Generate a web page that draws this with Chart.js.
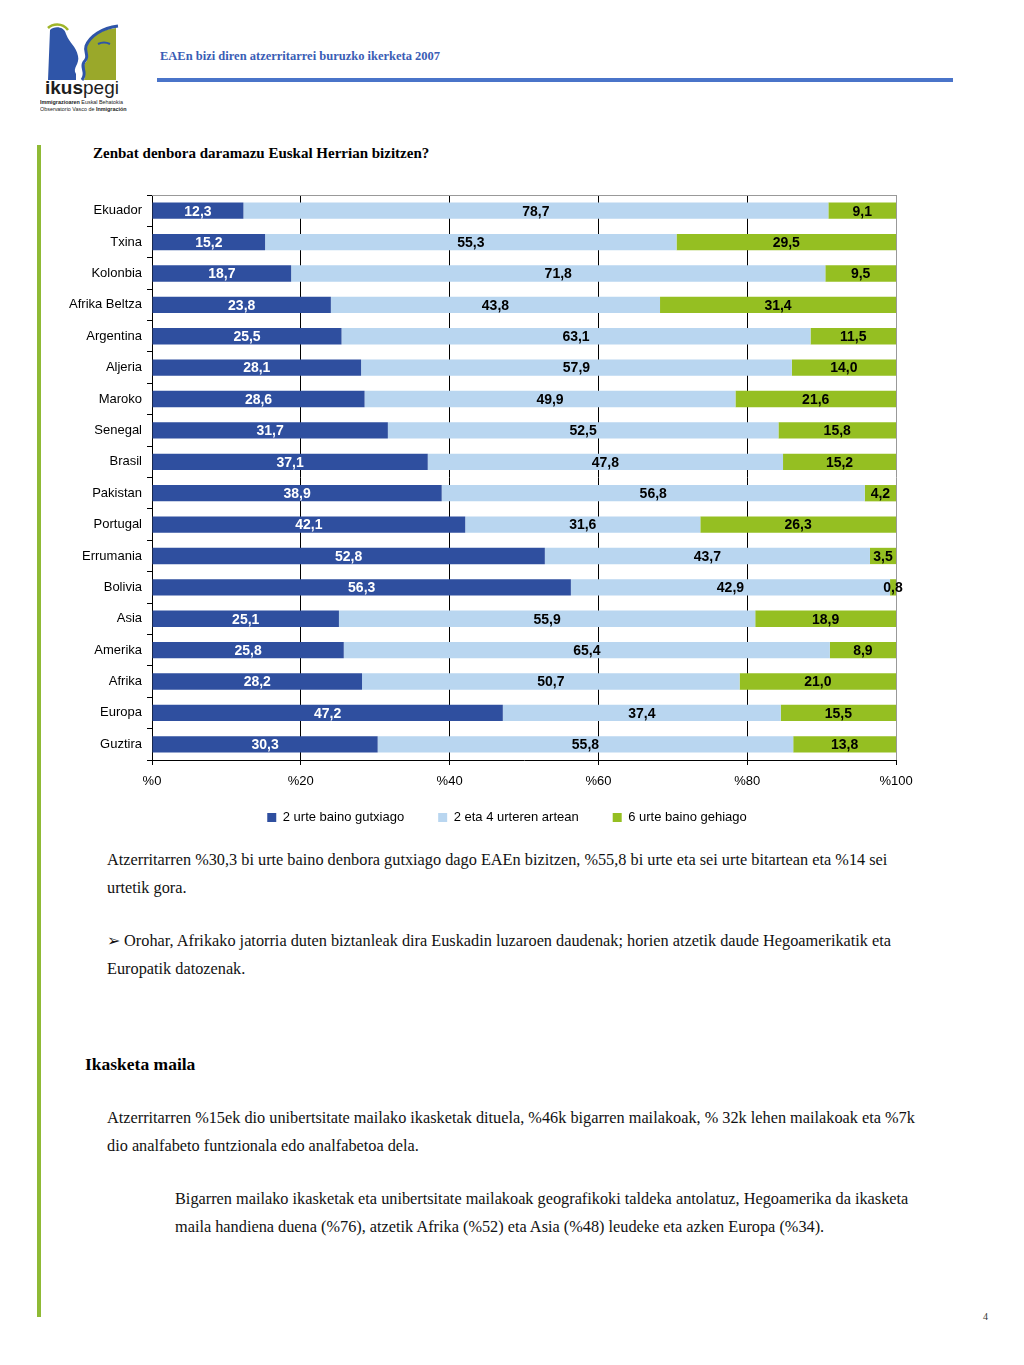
<!DOCTYPE html>
<html lang="eu">
<head>
  <meta charset="UTF-8">
  <title>Zenbat denbora daramazu Euskal Herrian bizitzen?</title>
  <script src="https://cdn.jsdelivr.net/npm/chart.js"></script>
  <style>
    html, body { margin: 0; padding: 0; background: #fff; }
    #page { position: relative; width: 1024px; height: 1365px; overflow: hidden; }
    .abs { position: absolute; white-space: nowrap; }
    .serif { font-family: "Liberation Serif", "Times New Roman", serif; color: #111; }
    #header { left: 160px; top: 49px; font-size: 12.5px; font-weight: bold; color: #3a5db5; }
    #rule { left: 157px; top: 78px; width: 796px; height: 4px; background: #4a74c9; }
    #sidebar { left: 37px; top: 145px; width: 4px; height: 1172px; background: #8fba35; }
    #title { left: 93px; top: 145px; font-size: 15px; font-weight: bold; color: #000; }
    .para { font-size: 16.3px; line-height: 27.5px; }
    #h2 { left: 85px; top: 1054px; font-size: 17.5px; font-weight: bold; color: #000; }
    #pageno { left: 983px; top: 1311px; font-size: 10px; font-family: "Liberation Serif", serif; color: #333; }
    #chartbox { left: 0; top: 180px; width: 1024px; height: 669px; }
  </style>
</head>
<body>
<div id="page">
  <svg class="abs" style="left:40px;top:22px" width="90" height="95" viewBox="0 0 90 95">
    <path d="M10 8 C 14 4, 24 4, 26 12 C 30 22, 36 24, 38 34 C 40 42, 32 46, 36 52 L 36 58 L 8 58 Z" fill="#2f55a8"/>
    <path d="M8 6 C 12 2, 22 0, 28 8" stroke="#9fb52a" stroke-width="2.5" fill="none"/>
    <path d="M46 22 C 50 14, 60 8, 76 6 L 76 58 L 44 58 C 48 50, 40 46, 46 40 C 50 36, 42 30, 46 22 Z" fill="#9aa82a"/>
    <path d="M78 4 C 62 6, 50 14, 46 24 C 44 30, 50 34, 44 40 C 40 46, 48 50, 42 58" stroke="#2f55a8" stroke-width="3" fill="none"/>
    <path d="M58 22 C 62 20, 66 20, 70 22" stroke="#2f55a8" stroke-width="2" fill="none"/>
    <text x="5" y="72" font-family="Liberation Sans, Arial, sans-serif" font-size="19" fill="#1d1d1d"><tspan font-weight="bold">ikus</tspan>pegi</text>
    <text x="0" y="82" font-family="Liberation Sans, Arial, sans-serif" font-size="5.4" fill="#222"><tspan font-weight="bold">Immigrazioaren</tspan> Euskal Behatokia</text>
    <text x="0" y="89" font-family="Liberation Sans, Arial, sans-serif" font-size="5.4" fill="#222">Observatorio Vasco de <tspan font-weight="bold">Inmigración</tspan></text>
  </svg>
  <div id="header" class="abs serif">EAEn bizi diren atzerritarrei buruzko ikerketa 2007</div>
  <div id="rule" class="abs"></div>
  <div id="sidebar" class="abs"></div>
  <div id="title" class="abs serif">Zenbat denbora daramazu Euskal Herrian bizitzen?</div>

  <div class="abs serif para" style="left:107px;top:846px">Atzerritarren %30,3 bi urte baino denbora gutxiago dago EAEn bizitzen, %55,8 bi urte eta sei urte bitartean eta %14 sei<br>urtetik gora.</div>
  <div class="abs serif para" style="left:107px;top:927px">&#10146; Orohar, Afrikako jatorria duten biztanleak dira Euskadin luzaroen daudenak; horien atzetik daude Hegoamerikatik eta<br>Europatik datozenak.</div>
  <div id="h2" class="abs serif">Ikasketa maila</div>
  <div class="abs serif para" style="left:107px;top:1104px">Atzerritarren %15ek dio unibertsitate mailako ikasketak dituela, %46k bigarren mailakoak, % 32k lehen mailakoak eta %7k<br>dio analfabeto funtzionala edo analfabetoa dela.</div>
  <div class="abs serif para" style="left:175px;top:1185px">Bigarren mailako ikasketak eta unibertsitate mailakoak geografikoki taldeka antolatuz, Hegoamerika da ikasketa<br>maila handiena duena (%76), atzetik Afrika (%52) eta Asia (%48) leudeke eta azken Europa (%34).</div>
  <div id="pageno" class="abs">4</div>

  <div id="chartbox" class="abs"><canvas id="viz"></canvas></div>
</div>

<script>
  const categories = ['Ekuador', 'Txina', 'Kolonbia', 'Afrika Beltza', 'Argentina', 'Aljeria', 'Maroko',
    'Senegal', 'Brasil', 'Pakistan', 'Portugal', 'Errumania', 'Bolivia', 'Asia', 'Amerika', 'Afrika',
    'Europa', 'Guztira']
  const lessThan2 = [12.3, 15.2, 18.7, 23.8, 25.5, 28.1, 28.6, 31.7, 37.1, 38.9, 42.1, 52.8, 56.3, 25.1, 25.8, 28.2, 47.2, 30.3]
  const between2and4 = [78.7, 55.3, 71.8, 43.8, 63.1, 57.9, 49.9, 52.5, 47.8, 56.8, 31.6, 43.7, 42.9, 55.9, 65.4, 50.7, 37.4, 55.8]
  const moreThan6 = [9.1, 29.5, 9.5, 31.4, 11.5, 14.0, 21.6, 15.8, 15.2, 4.2, 26.3, 3.5, 0.8, 18.9, 8.9, 21.0, 15.5, 13.8]
  const seriesNames = ['2 urte baino gutxiago', '2 eta 4 urteren artean', '6 urte baino gehiago']
  const xTicks = [0, 20, 40, 60, 80, 100]

  const series = [lessThan2, between2and4, moreThan6]
  const colors = ['#2f4f9f', '#b9d6f0', '#95bf22']
  const labelColors = ['#fff', '#000', '#000']

  // 100% stacked, like the original: each row is scaled to its own total
  const totals = categories.map((c, j) => series.reduce((s, arr) => s + arr[j], 0))
  const share = arr => arr.map((v, j) => v / totals[j] * 100)

  const sans = '"Liberation Sans", Arial, sans-serif'
  Chart.defaults.font.family = sans
  Chart.defaults.color = '#000'

  const valueLabels = {
    id: 'valueLabels',
    afterDatasetsDraw(chart) {
      const ctx = chart.ctx
      ctx.save()
      ctx.font = 'bold 14px ' + sans
      ctx.textAlign = 'center'
      ctx.textBaseline = 'middle'
      chart.data.datasets.forEach((ds, i) => {
        chart.getDatasetMeta(i).data.forEach((bar, j) => {
          const p = bar.getProps(['x', 'y', 'base'], true)
          ctx.fillStyle = labelColors[i]
          ctx.fillText(series[i][j].toFixed(1).replace('.', ','), (p.x + p.base) / 2, p.y + 1)
        })
      })
      ctx.restore()
    }
  }

  const topBorder = {
    id: 'topBorder',
    afterDraw(chart) {
      const { ctx, chartArea: a } = chart
      ctx.save()
      ctx.strokeStyle = '#999'
      ctx.lineWidth = 1
      ctx.beginPath()
      ctx.moveTo(a.left, a.top + 0.5)
      ctx.lineTo(a.right, a.top + 0.5)
      ctx.stroke()
      ctx.restore()
    }
  }

  // the legend in the original sits a bit left of the plot centre and close under the axis
  const legendShift = {
    id: 'legendShift',
    afterLayout(chart) {
      const lg = chart.legend
      lg.left += 28; lg.right += 28
      lg.top -= 15; lg.bottom -= 15
    }
  }

  new Chart(document.getElementById('viz'), {
    type: 'bar',
    data: {
      labels: categories,
      datasets: series.map((arr, i) => ({
        label: seriesNames[i],
        data: share(arr),
        backgroundColor: colors[i],
        borderWidth: 0,
        barPercentage: 0.52,
        categoryPercentage: 1
      }))
    },
    options: {
      indexAxis: 'y',
      responsive: true,
      maintainAspectRatio: false,
      animation: false,
      layout: { padding: { left: 62, right: 128, top: 15, bottom: 0 } },
      plugins: {
        legend: {
          position: 'bottom',
          labels: { boxWidth: 9, boxHeight: 9, padding: 34, font: { size: 13 }, color: '#000' }
        },
        tooltip: { enabled: false }
      },
      scales: {
        x: {
          stacked: true,
          min: 0,
          max: 100,
          afterBuildTicks: s => { s.ticks = xTicks.map(v => ({ value: v })) },
          afterFit: s => { s.height = 32 },
          ticks: { callback: v => '%' + v, font: { size: 13 }, color: '#000', padding: 9, maxRotation: 0 },
          grid: {
            color: c => c.tick && c.tick.value === 100 ? '#999' : '#000',
            tickColor: '#000',
            tickLength: 5,
            lineWidth: 1
          },
          border: { color: '#000', width: 1 }
        },
        y: {
          stacked: true,
          afterFit: s => { s.width = 90 },
          ticks: { font: { size: 13 }, color: '#000', padding: 5 },
          grid: { drawOnChartArea: false, offset: true, tickColor: '#000', tickLength: 5 },
          border: { color: '#000', width: 1 }
        }
      }
    },
    plugins: [valueLabels, topBorder, legendShift]
  })
</script>
</body>
</html>
